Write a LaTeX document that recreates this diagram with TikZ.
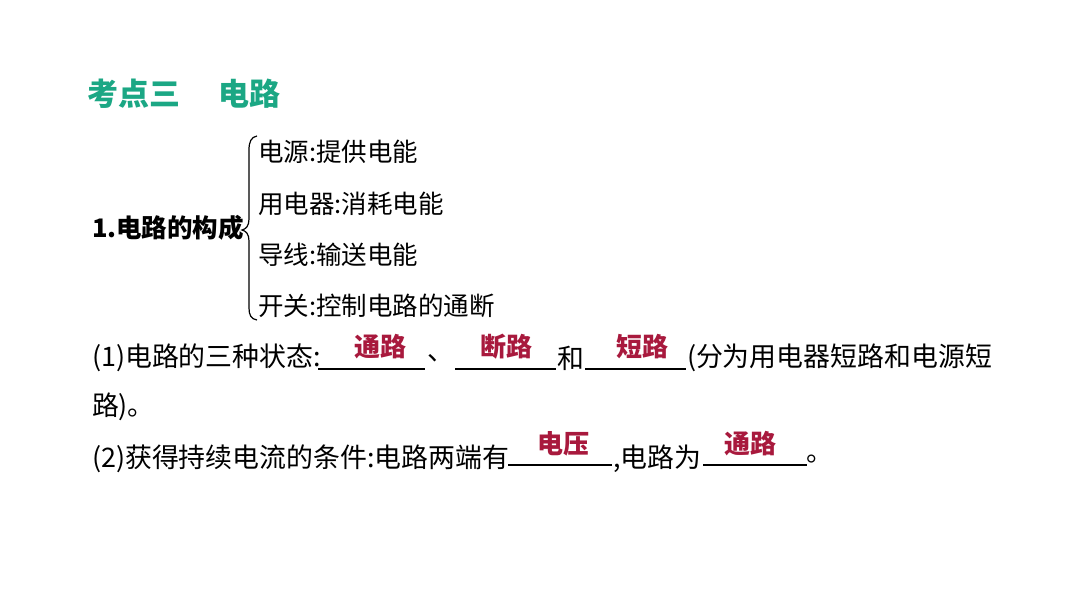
\documentclass[tikz,border=0pt]{standalone}
\usepackage{fontspec}
\setmainfont{Noto Sans CJK SC}
\definecolor{titlegreen}{HTML}{1BA784}
\definecolor{ansred}{HTML}{A8193D}
\begin{document}
\begin{tikzpicture}[x=1pt,y=-1pt,
  every node/.style={inner sep=0pt,outer sep=0pt},
  ttl/.style={anchor=west,text=titlegreen,font=\fontsize{31pt}{34pt}\bfseries\selectfont},
  item/.style={anchor=west,font=\fontsize{25.5pt}{30pt}\selectfont},
  body/.style={anchor=west,font=\fontsize{26.9pt}{30pt}\selectfont},
  bodyb/.style={anchor=west,font=\fontsize{25.5pt}{30pt}\bfseries\selectfont},
  ans/.style={text=ansred,font=\fontsize{26pt}{30pt}\bfseries\selectfont},
  blankline/.style={anchor=west}
]
\useasboundingbox[fill=white] (0,0) rectangle (1066,600);
% title
\node[ttl] (t1) at (87,94) {考点三};
\node[ttl] (t2) at (218,94) {电路};
% section 1
\node[bodyb] (c) at (92,228) {1.电路的构成};
\draw[line width=1.2pt] (257,136) .. controls (251,137) and (249,142) .. (249,150) -- (249,219)
  .. controls (249,226) and (246,229) .. (242,230)
  .. controls (246,231) and (249,234) .. (249,241) -- (249,308)
  .. controls (249,315) and (251,319) .. (257,320);
\node[item] (i1) at (258,152) {电源:提供电能};
\node[item] (i2) at (258,204) {用电器:消耗电能};
\node[item] (i3) at (258,255) {导线:输送电能};
\node[item] (i4) at (258,306) {开关:控制电路的通断};
% line (1)
\node[body] (a1) at (92,358) {(1)电路的三种状态:};
\node[blankline] (u1) at (318,369) {\rule{107pt}{1.3pt}};
\node[body] (a2) at (427,358) {、};
\node[blankline] (u2) at (455,369) {\rule{101pt}{1.3pt}};
\node[body] (a3) at (557,358) {和};
\node[blankline] (u3) at (585,369) {\rule{101pt}{1.3pt}};
\node[body] (a4) at (687,358) {(分为用电器短路和电源短};
\node[body] (a5) at (92,407) {路)。};
\node[ans] (r1) at (380,347) {通路};
\node[ans] (r2) at (506,347) {断路};
\node[ans] (r3) at (642,347) {短路};
% line (2)
\node[body] (b1) at (92,459) {(2)获得持续电流的条件:电路两端有};
\node[blankline] (v1) at (508,465) {\rule{104pt}{1.3pt}};
\node[body] (b2) at (613,459) {,电路为};
\node[blankline] (v2) at (703,465) {\rule{104pt}{1.3pt}};
\node[body] (b3) at (806,459) {。};
\node[ans] (r4) at (563,444) {电压};
\node[ans] (r5) at (750,444) {通路};
\end{tikzpicture}
\end{document}
